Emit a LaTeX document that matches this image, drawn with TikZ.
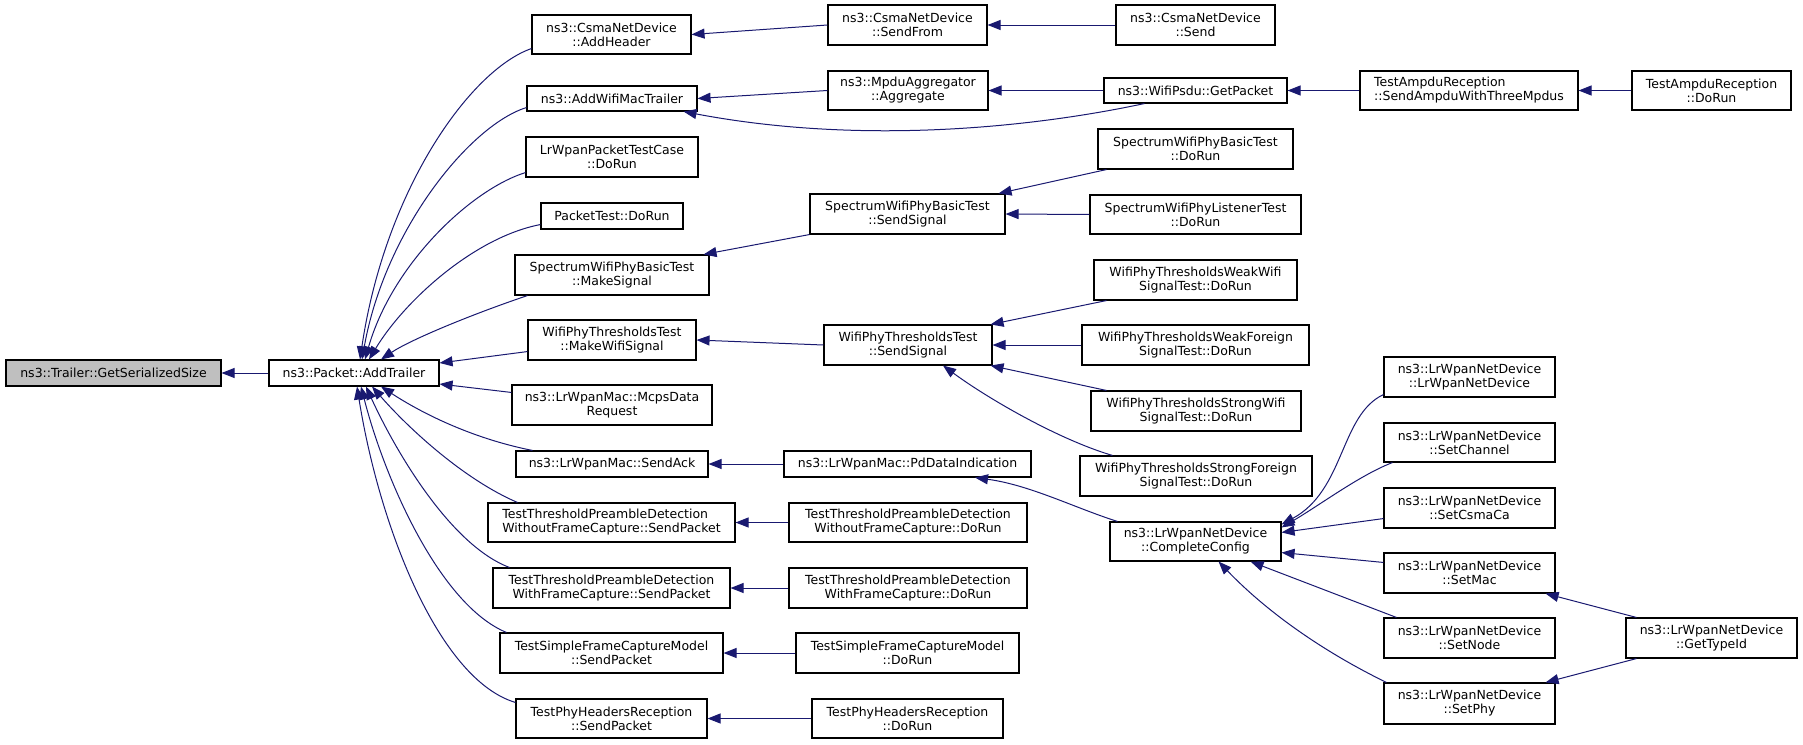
\documentclass[tikz,border=0pt]{standalone}
\usepackage{fontspec}
\setmainfont{DejaVu Sans}
\usetikzlibrary{arrows.meta,calc}
\definecolor{edgec}{HTML}{191970}
\definecolor{hl}{HTML}{BFBFBF}
\tikzset{
  box/.style={draw=black,line width=0.55pt,fill=white,inner sep=0pt,align=center,
              font=\fontsize{6.25}{7}\selectfont},
  edge/.style={draw=edgec,line width=0.5pt,-{Triangle[length=6.5pt,width=5pt]}},
}
\newcommand\nd[7][]{%
  \pgfmathsetmacro\ndw{(#5-#3)*0.5}\pgfmathsetmacro\ndh{(#6-#4)*0.5}%
  \node[box,#1,minimum width=\ndw pt,minimum height=\ndh pt] (#2) at ({(#3+#5)/2},{(#4+#6)/2}) {#7};}
\begin{document}
\begin{tikzpicture}[x=0.5pt,y=-0.5pt]
\useasboundingbox (0,0) rectangle (1803,744);
% column 0,1
\nd[fill=hl]{gss}{6}{360}{221}{386}{ns3::Trailer::GetSerializedSize}
\nd{at}{269}{360}{439}{386}{ns3::Packet::AddTrailer}
% column 2
\nd{ah}{532}{15}{691}{54}{ns3::CsmaNetDevice\\::AddHeader}
\nd{awmt}{527}{86}{697}{111}{ns3::AddWifiMacTrailer}
\nd{lptc}{526}{137}{698}{177}{LrWpanPacketTestCase\\::DoRun}
\nd{pt}{541}{203}{683}{229}{PacketTest::DoRun}
\nd{ms}{515}{255}{709}{295}{SpectrumWifiPhyBasicTest\\::MakeSignal}
\nd{mws}{528}{320}{696}{360}{WifiPhyThresholdsTest\\::MakeWifiSignal}
\nd{mcps}{512}{385}{712}{425}{ns3::LrWpanMac::McpsData\\Request}
\nd{sack}{516}{451}{708}{477}{ns3::LrWpanMac::SendAck}
\nd[align=left]{ttwo}{488}{503}{735}{542}{TestThresholdPreambleDetection\\WithoutFrameCapture::SendPacket}
\nd{ttw}{493}{568}{730}{608}{TestThresholdPreambleDetection\\WithFrameCapture::SendPacket}
\nd{tsfsp}{500}{633}{723}{673}{TestSimpleFrameCaptureModel\\::SendPacket}
\nd{tphsp}{516}{699}{707}{738}{TestPhyHeadersReception\\::SendPacket}
% column 3
\nd{sf}{828}{5}{987}{45}{ns3::CsmaNetDevice\\::SendFrom}
\nd{agg}{828}{71}{988}{110}{ns3::MpduAggregator\\::Aggregate}
\nd{sss}{810}{194}{1005}{234}{SpectrumWifiPhyBasicTest\\::SendSignal}
\nd{wss}{824}{325}{992}{365}{WifiPhyThresholdsTest\\::SendSignal}
\nd{pdi}{784}{451}{1031}{477}{ns3::LrWpanMac::PdDataIndication}
\nd{ttwod}{789}{503}{1027}{542}{TestThresholdPreambleDetection\\WithoutFrameCapture::DoRun}
\nd{ttwd}{789}{568}{1027}{608}{TestThresholdPreambleDetection\\WithFrameCapture::DoRun}
\nd{tsfd}{796}{633}{1019}{673}{TestSimpleFrameCaptureModel\\::DoRun}
\nd{tphd}{812}{699}{1003}{738}{TestPhyHeadersReception\\::DoRun}
% column 4
\nd{snd}{1116}{5}{1275}{45}{ns3::CsmaNetDevice\\::Send}
\nd{gp}{1104}{78}{1287}{103}{ns3::WifiPsdu::GetPacket}
\nd{sbd}{1098}{129}{1293}{169}{SpectrumWifiPhyBasicTest\\::DoRun}
\nd{sld}{1090}{195}{1301}{234}{SpectrumWifiPhyListenerTest\\::DoRun}
\nd{ww}{1094}{260}{1297}{300}{WifiPhyThresholdsWeakWifi\\SignalTest::DoRun}
\nd{wf}{1082}{325}{1309}{365}{WifiPhyThresholdsWeakForeign\\SignalTest::DoRun}
\nd{sw}{1091}{391}{1301}{431}{WifiPhyThresholdsStrongWifi\\SignalTest::DoRun}
\nd{sfo}{1080}{456}{1312}{496}{WifiPhyThresholdsStrongForeign\\SignalTest::DoRun}
\nd{cc}{1110}{522}{1281}{561}{ns3::LrWpanNetDevice\\::CompleteConfig}
% column 5
\nd[align=left]{samp}{1360}{71}{1578}{110}{TestAmpduReception\\::SendAmpduWithThreeMpdus}
\nd{lnd}{1384}{357}{1555}{397}{ns3::LrWpanNetDevice\\::LrWpanNetDevice}
\nd{sch}{1384}{423}{1555}{462}{ns3::LrWpanNetDevice\\::SetChannel}
\nd{scs}{1384}{488}{1555}{528}{ns3::LrWpanNetDevice\\::SetCsmaCa}
\nd{smac}{1384}{553}{1555}{593}{ns3::LrWpanNetDevice\\::SetMac}
\nd{snode}{1384}{618}{1555}{658}{ns3::LrWpanNetDevice\\::SetNode}
\nd{sphy}{1384}{683}{1555}{724}{ns3::LrWpanNetDevice\\::SetPhy}
% column 6
\nd{tard}{1632}{71}{1791}{110}{TestAmpduReception\\::DoRun}
\nd{gti}{1626}{618}{1797}{658}{ns3::LrWpanNetDevice\\::GetTypeId}
% edges into AddTrailer
\draw[edge] (at.west) -- (gss.east);
\draw[edge] ($(ah.south west)+(0,-6)$) .. controls (470,70) and (385,190) .. ($(at.north)+(6,0)$);
\draw[edge] ($(awmt.south west)+(0,-4)$) .. controls (470,125) and (385,230) .. ($(at.north)+(8,0)$);
\draw[edge] ($(lptc.south west)+(0,-5)$) .. controls (470,190) and (392,265) .. ($(at.north)+(11,0)$);
\draw[edge] ($(pt.south west)+(0,-5)$) .. controls (475,237) and (405,300) .. ($(at.north)+(15,0)$);
\draw[edge] ($(ms.south west)+(13,0)$) .. controls (470,315) and (410,340) .. ($(at.north)+(27,0)$);
\draw[edge] ($(mws.south west)+(0,-9)$) -- ($(at.east)+(0,-10)$);
\draw[edge] ($(mcps.north west)+(0,8)$) -- ($(at.east)+(0,11)$);
\draw[edge] ($(sack.north west)+(17,0)$) .. controls (470,438) and (420,412) .. ($(at.south)+(27,0)$);
\draw[edge] ($(ttwo.north west)+(30,0)$) .. controls (465,480) and (410,430) .. ($(at.south)+(18,0)$);
\draw[edge] ($(ttw.north west)+(17,0)$) .. controls (450,545) and (395,450) .. ($(at.south)+(12,0)$);
\draw[edge] ($(tsfsp.north west)+(7,0)$) .. controls (440,605) and (385,480) .. ($(at.south)+(7,0)$);
\draw[edge] ($(tphsp.north west)+(0,4)$) .. controls (440,680) and (380,530) .. ($(at.south)+(3,0)$);
% further edges
\draw[edge] (sf.west) -- (ah.east);
\draw[edge] (snd.west) -- (sf.east);
\draw[edge] (agg.west) -- (awmt.east);
\draw[edge] (gp.west) -- (agg.east);
\draw[edge] ($(gp.south west)+(41,0)$) .. controls (1030,128) and (860,145) .. ($(awmt.south east)+(-14,0)$);
\draw[edge] (samp.west) -- (gp.east);
\draw[edge] (tard.west) -- (samp.east);
\draw[edge] (sss.south west) -- ($(ms.north east)+(-6,0)$);
\draw[edge] ($(sbd.south west)+(9,0)$) -- ($(sss.north east)+(-7,0)$);
\draw[edge] (sld.west) -- (sss.east);
\draw[edge] (wss.west) -- (mws.east);
\draw[edge] ($(ww.south west)+(13,0)$) -- ($(wss.north east)+(-2,0)$);
\draw[edge] (wf.west) -- (wss.east);
\draw[edge] ($(sw.north west)+(16,0)$) -- ($(wss.south east)+(-2,0)$);
\draw[edge] ($(sfo.north west)+(33,0)$) .. controls (1060,440) and (990,400) .. ($(wss.south)+(35,0)$);
\draw[edge] (pdi.west) -- (sack.east);
\draw[edge] ($(cc.north west)+(8,0)$) .. controls (1075,508) and (1030,485) .. ($(pdi.south)+(67.5,0)$);
\draw[edge] (ttwod.west) -- (ttwo.east);
\draw[edge] (ttwd.west) -- (ttw.east);
\draw[edge] (tsfd.west) -- (tsfsp.east);
\draw[edge] (tphd.west) -- (tphsp.east);
\draw[edge] ($(lnd.south west)+(0,-3)$) .. controls (1340,415) and (1345,490) .. ($(cc.north east)+(0,3)$);
\draw[edge] ($(sch.south west)+(9,0)$) .. controls (1360,475) and (1320,505) .. ($(cc.north east)+(0,6)$);
\draw[edge] ($(scs.south west)+(0,-10)$) -- ($(cc.north east)+(0,11)$);
\draw[edge] ($(smac.north west)+(0,10)$) -- ($(cc.south east)+(0,-9)$);
\draw[edge] ($(snode.north west)+(13,0)$) -- ($(cc.south east)+(-31,0)$);
\draw[edge] ($(sphy.north west)+(3,0)$) .. controls (1320,650) and (1265,610) .. ($(cc.south east)+(-63,0)$);
\draw[edge] ($(gti.north west)+(11,0)$) -- ($(smac.south east)+(-10,0)$);
\draw[edge] ($(gti.south west)+(11,0)$) -- ($(sphy.north east)+(-10,0)$);
\end{tikzpicture}
\end{document}
